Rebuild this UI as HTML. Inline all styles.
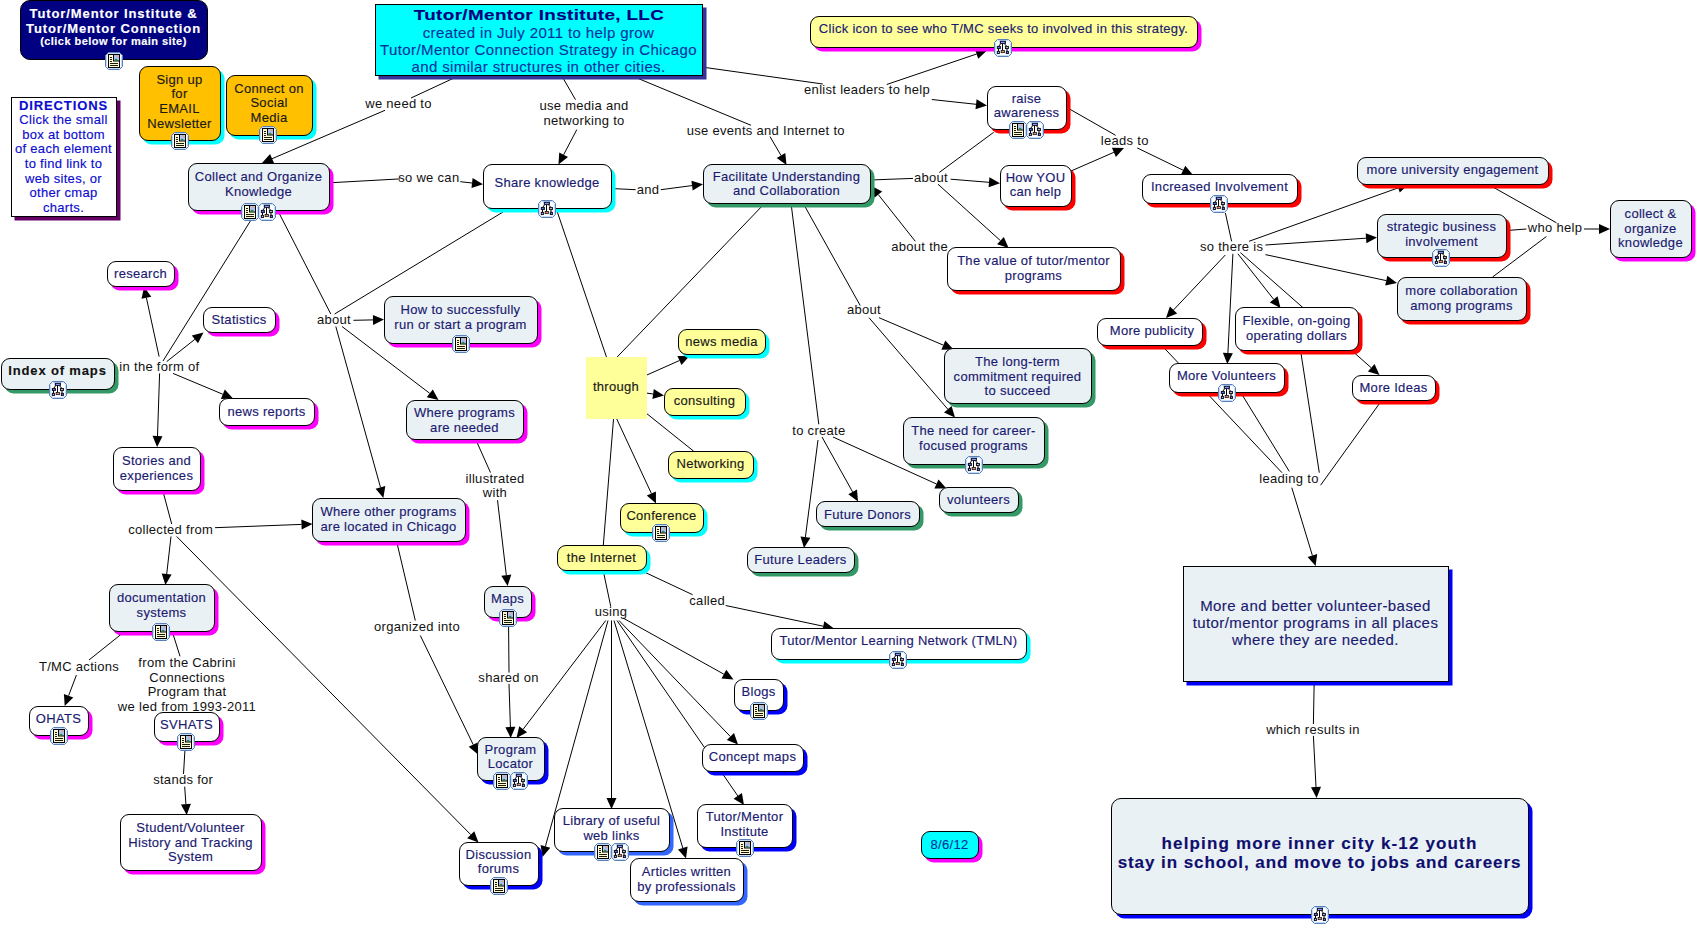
<!DOCTYPE html><html><head><meta charset="utf-8"><style>
html,body{margin:0;padding:0;background:#fff;}
body{width:1697px;height:926px;position:relative;overflow:hidden;font-family:"Liberation Sans", sans-serif;}
.n{position:absolute;box-sizing:border-box;}
.t{position:absolute;white-space:nowrap;text-align:center;width:600px;height:0;}
.t span{position:absolute;left:0;width:600px;text-align:center;transform:translateY(-50%);line-height:1;-webkit-text-stroke:0.15px currentColor;}
.lab{position:absolute;white-space:nowrap;color:#111;font-size:13px;letter-spacing:0.3px;}
.lab span{position:absolute;transform:translate(-50%,-50%);padding:0 1px;line-height:1.05;}
.ic{position:absolute;width:18px;height:18px;}
svg.lines{position:absolute;left:0;top:0;}

</style></head><body>
<svg width="0" height="0" style="position:absolute"><defs>
<symbol id="iw" viewBox="0 0 18 18">
<path d="M3.5,0.5H14.5L17.5,3.5V14.5L14.5,17.5H3.5L0.5,14.5V3.5Z" fill="#fff" stroke="#5a80bc" stroke-width="1"/>
<path d="M3.8,1.5H14.2L16.5,3.8V14.2L14.2,16.5H3.8L1.5,14.2V3.8Z" fill="none" stroke="#c0dcfa" stroke-width="1"/>
<rect x="3.5" y="2.5" width="11" height="13" fill="#fffbd8" stroke="#000" stroke-width="1"/>
<rect x="8.5" y="2.5" width="6" height="6.5" fill="#a8c4f0" stroke="#000" stroke-width="1"/>
<circle cx="12.6" cy="4.3" r="1.1" fill="#f0a080"/>
<path d="M9,8.6 L11,6.4 L13.5,8.6 Z" fill="#2f7a2f"/>
<path d="M5,5.5h2M5,7.5h2M5,9.5h2M5,11.5h8M5,13.5h8" stroke="#1a1a00" stroke-width="1"/>
</symbol>
<symbol id="ic" viewBox="0 0 18 18">
<path d="M3.5,0.5H14.5L17.5,3.5V14.5L14.5,17.5H3.5L0.5,14.5V3.5Z" fill="#fff" stroke="#5a80bc" stroke-width="1"/>
<path d="M3.8,1.5H14.2L16.5,3.8V14.2L14.2,16.5H3.8L1.5,14.2V3.8Z" fill="none" stroke="#c0dcfa" stroke-width="1"/>
<path d="M8.5,4.5V11.5M6.8,4.5L4.8,7.2M10.2,4.5L12.7,7.2M4.5,9.7V12.1M13,9.7V12.1" stroke="#000" stroke-width="1" fill="none"/>
<rect x="6.1" y="2.1" width="5.6" height="2.5" fill="#0a0a80" stroke="#000" stroke-width="0.6"/>
<rect x="7" y="2.9" width="3.8" height="0.9" fill="#a0c8ff"/>
<rect x="3.2" y="7.3" width="3.3" height="2.4" fill="#10108a" stroke="#000" stroke-width="0.7"/>
<rect x="4" y="8.1" width="1.7" height="0.8" fill="#7090ff"/>
<rect x="11.3" y="7.3" width="3.3" height="2.4" fill="#10108a" stroke="#000" stroke-width="0.7"/>
<rect x="12" y="8.1" width="1.9" height="0.8" fill="#f0f0a0"/>
<rect x="3.2" y="12.2" width="2.4" height="2.5" fill="#10108a" stroke="#000" stroke-width="0.7"/>
<rect x="4" y="13" width="0.8" height="0.9" fill="#fff"/>
<rect x="7.1" y="11.5" width="3.3" height="2.2" fill="#e09070" stroke="#000" stroke-width="0.7"/>
<rect x="12.2" y="12.2" width="2.4" height="2.5" fill="#10108a" stroke="#000" stroke-width="0.7"/>
<rect x="13" y="13" width="0.8" height="0.9" fill="#8aa0ff"/>
</symbol>
</defs></svg>
<svg class="lines" width="1697" height="926"><g stroke="#000" stroke-width="1" fill="none"><line x1="454" y1="78" x2="411" y2="98"/><line x1="385" y1="110.3" x2="272.1" y2="158.7"/><path d="M262.0,163.0 L270.1,154.1 L274.1,163.3 Z" fill="#000" stroke="none"/><line x1="563" y1="78" x2="575.5" y2="99.7"/><line x1="576.8" y1="129.6" x2="563.6" y2="154.8"/><path d="M558.5,164.5 L559.2,152.4 L568.0,157.1 Z" fill="#000" stroke="none"/><line x1="637" y1="78" x2="751" y2="125.3"/><line x1="770" y1="136.6" x2="781.0" y2="155.5"/><path d="M786.5,165.0 L776.7,158.0 L785.3,153.0 Z" fill="#000" stroke="none"/><line x1="703" y1="67.2" x2="822.8" y2="84"/><line x1="886.7" y1="84.5" x2="976.6" y2="54.0"/><path d="M987.0,50.5 L978.2,58.8 L975.0,49.3 Z" fill="#000" stroke="none"/><line x1="931.8" y1="99.5" x2="976.1" y2="104.3"/><path d="M987.0,105.5 L975.5,109.3 L976.6,99.3 Z" fill="#000" stroke="none"/><line x1="333" y1="182.6" x2="400" y2="178.9"/><line x1="460.3" y1="181.7" x2="472.1" y2="183.0"/><path d="M483.0,184.2 L471.5,188.0 L472.6,178.0 Z" fill="#000" stroke="none"/><line x1="611" y1="188.5" x2="635.7" y2="189.7"/><line x1="660.8" y1="189.7" x2="692.1" y2="185.6"/><path d="M703.0,184.2 L692.7,190.6 L691.4,180.7 Z" fill="#000" stroke="none"/><line x1="870" y1="180" x2="913" y2="178.4"/><line x1="950.6" y1="179.2" x2="989.0" y2="182.3"/><path d="M1000.0,183.2 L988.6,187.3 L989.4,177.3 Z" fill="#000" stroke="none"/><line x1="939.3" y1="172.4" x2="993.7" y2="132.3"/><line x1="938" y1="184.2" x2="1000.4" y2="240.6"/><path d="M1008.6,248.0 L997.1,244.3 L1003.8,236.9 Z" fill="#000" stroke="none"/><line x1="915.3" y1="241.3" x2="878.3" y2="194.6"/><path d="M871.5,186.0 L882.2,191.5 L874.4,197.7 Z" fill="#000" stroke="none"/><line x1="1066" y1="107" x2="1115.6" y2="135.3"/><line x1="1071" y1="171" x2="1113.9" y2="152.3"/><path d="M1124.0,147.9 L1115.9,156.9 L1111.9,147.7 Z" fill="#000" stroke="none"/><line x1="1137.2" y1="147.9" x2="1183.1" y2="170.2"/><path d="M1193.0,175.0 L1180.9,174.7 L1185.3,165.7 Z" fill="#000" stroke="none"/><line x1="1225.4" y1="213" x2="1231.6" y2="241.3"/><line x1="1249" y1="241.3" x2="1398.1" y2="187.9"/><path d="M1408.5,184.2 L1399.8,192.6 L1396.5,183.2 Z" fill="#000" stroke="none"/><line x1="1265.4" y1="245" x2="1366.0" y2="238.2"/><path d="M1377.0,237.5 L1366.4,243.2 L1365.7,233.2 Z" fill="#000" stroke="none"/><line x1="1265.4" y1="254.6" x2="1386.2" y2="280.6"/><path d="M1397.0,282.9 L1385.2,285.5 L1387.3,275.7 Z" fill="#000" stroke="none"/><line x1="1225.3" y1="255" x2="1173.5" y2="310.0"/><path d="M1166.0,318.0 L1169.9,306.6 L1177.2,313.4 Z" fill="#000" stroke="none"/><line x1="1232.9" y1="253.8" x2="1227.9" y2="353.0"/><path d="M1227.3,364.0 L1222.9,352.8 L1232.9,353.3 Z" fill="#000" stroke="none"/><line x1="1237.9" y1="253.8" x2="1273.7" y2="299.4"/><path d="M1280.5,308.0 L1269.8,302.4 L1277.6,296.3 Z" fill="#000" stroke="none"/><line x1="1240.4" y1="252.6" x2="1371.2" y2="367.7"/><path d="M1379.5,375.0 L1367.9,371.5 L1374.5,364.0 Z" fill="#000" stroke="none"/><line x1="1487.5" y1="184" x2="1556.5" y2="222.8"/><line x1="1507" y1="230.5" x2="1526.4" y2="229"/><line x1="1492.6" y1="277" x2="1546.4" y2="236.5"/><line x1="1584" y1="229" x2="1599.0" y2="229.0"/><path d="M1610.0,229.0 L1599.0,234.0 L1599.0,224.0 Z" fill="#000" stroke="none"/><line x1="1150" y1="333" x2="1282" y2="472.7"/><line x1="1240.4" y1="392" x2="1289.3" y2="471.4"/><line x1="1300.5" y1="350" x2="1319.3" y2="472.7"/><line x1="1382" y1="400" x2="1320.6" y2="485.2"/><line x1="1291.8" y1="487.7" x2="1312.4" y2="555.5"/><path d="M1315.6,566.0 L1307.6,556.9 L1317.2,554.0 Z" fill="#000" stroke="none"/><line x1="1314.2" y1="681" x2="1313.4" y2="724"/><line x1="1313.4" y1="735.9" x2="1316.0" y2="787.0"/><path d="M1316.6,798.0 L1311.0,787.3 L1321.0,786.8 Z" fill="#000" stroke="none"/><line x1="256" y1="212" x2="163" y2="361"/><line x1="159.1" y1="356.6" x2="146.4" y2="297.8"/><path d="M144.1,287.0 L151.3,296.7 L141.5,298.8 Z" fill="#000" stroke="none"/><line x1="166.7" y1="361.6" x2="194.9" y2="339.3"/><path d="M203.5,332.5 L198.0,343.2 L191.8,335.4 Z" fill="#000" stroke="none"/><line x1="173" y1="373.4" x2="222.9" y2="394.3"/><path d="M233.0,398.5 L220.9,398.9 L224.8,389.6 Z" fill="#000" stroke="none"/><line x1="159.6" y1="373.4" x2="157.5" y2="436.0"/><path d="M157.1,447.0 L152.5,435.8 L162.5,436.2 Z" fill="#000" stroke="none"/><line x1="278" y1="211" x2="330.8" y2="314"/><line x1="503" y1="212" x2="334.6" y2="314"/><line x1="353.4" y1="320.3" x2="373.0" y2="319.9"/><path d="M384.0,319.6 L373.1,324.9 L372.9,314.9 Z" fill="#000" stroke="none"/><line x1="342" y1="326.5" x2="429.7" y2="393.3"/><path d="M438.5,400.0 L426.7,397.3 L432.8,389.4 Z" fill="#000" stroke="none"/><line x1="335.8" y1="326.5" x2="380.5" y2="487.4"/><path d="M383.4,498.0 L375.6,488.7 L385.3,486.1 Z" fill="#000" stroke="none"/><line x1="475.5" y1="439" x2="490.5" y2="472.6"/><line x1="497.5" y1="500.2" x2="506.3" y2="575.1"/><path d="M507.6,586.0 L501.3,575.7 L511.3,574.5 Z" fill="#000" stroke="none"/><line x1="508.5" y1="617" x2="509" y2="672.6"/><line x1="509" y1="683.9" x2="510.4" y2="727.0"/><path d="M510.7,738.0 L505.4,727.2 L515.4,726.8 Z" fill="#000" stroke="none"/><line x1="396.5" y1="541" x2="415.3" y2="620.5"/><line x1="420.3" y1="635.5" x2="473.2" y2="744.6"/><path d="M478.0,754.5 L468.7,746.8 L477.7,742.4 Z" fill="#000" stroke="none"/><line x1="162.9" y1="491" x2="171.7" y2="524"/><line x1="215" y1="527.7" x2="301.5" y2="524.4"/><path d="M312.5,524.0 L301.7,529.4 L301.3,519.4 Z" fill="#000" stroke="none"/><line x1="171" y1="536.5" x2="166.7" y2="574.1"/><path d="M165.4,585.0 L161.7,573.5 L171.6,574.6 Z" fill="#000" stroke="none"/><line x1="176.7" y1="536.5" x2="470.8" y2="834.7"/><path d="M478.5,842.5 L467.2,838.2 L474.3,831.2 Z" fill="#000" stroke="none"/><line x1="124" y1="632" x2="89" y2="660"/><line x1="76.4" y1="675.1" x2="68.6" y2="695.7"/><path d="M64.7,706.0 L63.9,693.9 L73.3,697.5 Z" fill="#000" stroke="none"/><line x1="172.4" y1="632" x2="180" y2="656.3"/><line x1="185.5" y1="741" x2="183.5" y2="774"/><line x1="184.7" y1="786.6" x2="185.9" y2="804.0"/><path d="M186.7,815.0 L180.9,804.4 L190.9,803.7 Z" fill="#000" stroke="none"/><line x1="556" y1="208" x2="606.8" y2="358"/><line x1="765" y1="203" x2="616.2" y2="358"/><line x1="646" y1="375.4" x2="679.5" y2="360.5"/><path d="M689.5,356.0 L681.5,365.0 L677.4,355.9 Z" fill="#000" stroke="none"/><line x1="646" y1="393" x2="653.1" y2="394.0"/><path d="M664.0,395.5 L652.4,398.9 L653.8,389.0 Z" fill="#000" stroke="none"/><line x1="646" y1="413" x2="693.8" y2="451.3"/><line x1="616.3" y1="418" x2="651.4" y2="493.5"/><path d="M656.0,503.5 L646.8,495.6 L655.9,491.4 Z" fill="#000" stroke="none"/><line x1="613.6" y1="418" x2="603.3" y2="545.3"/><line x1="603.3" y1="571" x2="610.8" y2="606.7"/><line x1="642.1" y1="571" x2="692.6" y2="594.7"/><line x1="725.7" y1="605.5" x2="823.2" y2="626.2"/><path d="M834.0,628.5 L822.2,631.1 L824.3,621.3 Z" fill="#000" stroke="none"/><line x1="605.8" y1="620.5" x2="523.2" y2="729.2"/><path d="M516.5,738.0 L519.2,726.2 L527.1,732.3 Z" fill="#000" stroke="none"/><line x1="608" y1="620.5" x2="545.4" y2="846.4"/><path d="M542.5,857.0 L540.6,845.1 L550.3,847.7 Z" fill="#000" stroke="none"/><line x1="611.5" y1="620.5" x2="611.5" y2="798.0"/><path d="M611.5,809.0 L606.5,798.0 L616.5,798.0 Z" fill="#000" stroke="none"/><line x1="614" y1="620.5" x2="682.8" y2="848.0"/><path d="M686.0,858.5 L678.0,849.4 L687.6,846.5 Z" fill="#000" stroke="none"/><line x1="617" y1="620.5" x2="737.8" y2="795.9"/><path d="M744.0,805.0 L733.6,798.8 L741.9,793.1 Z" fill="#000" stroke="none"/><line x1="619" y1="620.5" x2="730.4" y2="736.6"/><path d="M738.0,744.5 L726.8,740.0 L734.0,733.1 Z" fill="#000" stroke="none"/><line x1="623" y1="618" x2="723.9" y2="674.2"/><path d="M733.5,679.5 L721.5,678.5 L726.3,669.8 Z" fill="#000" stroke="none"/><line x1="791" y1="203" x2="818.8" y2="424.3"/><line x1="818" y1="440" x2="805.4" y2="537.1"/><path d="M804.0,548.0 L800.5,536.4 L810.4,537.7 Z" fill="#000" stroke="none"/><line x1="822" y1="437" x2="852.6" y2="491.9"/><path d="M858.0,501.5 L848.3,494.3 L857.0,489.5 Z" fill="#000" stroke="none"/><line x1="833" y1="437" x2="936.5" y2="484.0"/><path d="M946.5,488.5 L934.4,488.5 L938.5,479.4 Z" fill="#000" stroke="none"/><line x1="803" y1="203" x2="860.2" y2="305.5"/><line x1="879" y1="317.7" x2="943.4" y2="345.2"/><path d="M953.5,349.5 L941.4,349.8 L945.3,340.6 Z" fill="#000" stroke="none"/><line x1="869" y1="317.7" x2="947.8" y2="409.2"/><path d="M955.0,417.5 L944.0,412.4 L951.6,405.9 Z" fill="#000" stroke="none"/></g></svg>
<div class="n" style="left:20px;top:0px;width:188px;height:60px;background:#000080;border-radius:10px;border:1px solid #000;"></div>
<div class="t" style="left:-186.5px;top:0px"><span style="top:12.7px;font-size:13px;letter-spacing:0.9px;color:#ffffff;font-weight:bold;">Tutor/Mentor Institute &amp;</span><span style="top:27.6px;font-size:13px;letter-spacing:0.9px;color:#ffffff;font-weight:bold;">Tutor/Mentor Connection</span><span style="top:40.7px;font-size:11px;letter-spacing:0.45px;color:#ffffff;font-weight:bold;">(click below for main site)</span></div>
<div class="n" style="left:139px;top:66px;width:82px;height:75px;background:#ffc000;border-radius:9px;border:1px solid #000;box-shadow:3.5px 3.5px 0 #00ffff;"></div>
<div class="t" style="left:-120.5px;top:0px"><span style="top:79px;font-size:13px;letter-spacing:0.3px;color:#1a1a1a;font-weight:normal;">Sign up</span><span style="top:93.4px;font-size:13px;letter-spacing:0.3px;color:#1a1a1a;font-weight:normal;">for</span><span style="top:107.8px;font-size:13px;letter-spacing:0.3px;color:#1a1a1a;font-weight:normal;">EMAIL</span><span style="top:122.5px;font-size:13px;letter-spacing:0.3px;color:#1a1a1a;font-weight:normal;">Newsletter</span></div>
<div class="n" style="left:226px;top:75px;width:87px;height:61px;background:#ffc000;border-radius:9px;border:1px solid #000;box-shadow:3.5px 3.5px 0 #00ffff;"></div>
<div class="t" style="left:-31.0px;top:0px"><span style="top:87.7px;font-size:13px;letter-spacing:0.3px;color:#1a1a1a;font-weight:normal;">Connect on</span><span style="top:102.1px;font-size:13px;letter-spacing:0.3px;color:#1a1a1a;font-weight:normal;">Social</span><span style="top:116.5px;font-size:13px;letter-spacing:0.3px;color:#1a1a1a;font-weight:normal;">Media</span></div>
<div class="n" style="left:11px;top:97px;width:106px;height:120px;background:#ffffff;border-radius:0px;border:1px solid #000;box-shadow:3.5px 3.5px 0 #660066;"></div>
<div class="t" style="left:-236.5px;top:0px"><span style="top:104.6px;font-size:13px;letter-spacing:0.9px;color:#0c0cd0;font-weight:bold;">DIRECTIONS</span><span style="top:119.2px;font-size:13px;letter-spacing:0.3px;color:#0c0cd0;font-weight:normal;">Click the small</span><span style="top:133.7px;font-size:13px;letter-spacing:0.3px;color:#0c0cd0;font-weight:normal;">box at bottom</span><span style="top:148.3px;font-size:13px;letter-spacing:0.3px;color:#0c0cd0;font-weight:normal;">of each element</span><span style="top:162.7px;font-size:13px;letter-spacing:0.3px;color:#0c0cd0;font-weight:normal;">to find link to</span><span style="top:177.5px;font-size:13px;letter-spacing:0.3px;color:#0c0cd0;font-weight:normal;">web sites, or</span><span style="top:192px;font-size:13px;letter-spacing:0.3px;color:#0c0cd0;font-weight:normal;">other cmap</span><span style="top:206.5px;font-size:13px;letter-spacing:0.3px;color:#0c0cd0;font-weight:normal;">charts.</span></div>
<div class="n" style="left:375px;top:4px;width:328px;height:72px;background:#00ffff;border-radius:0px;border:1px solid #000;box-shadow:3.5px 3.5px 0 #333399;"></div>
<div class="t" style="left:238.5px;top:0px"><span style="top:14.7px;font-size:15.5px;letter-spacing:0.3px;color:#000080;font-weight:bold;transform:translateY(-50%) scaleX(1.217);">Tutor/Mentor Institute, LLC</span><span style="top:31.700000000000003px;font-size:15px;letter-spacing:0.38px;color:#0033a0;font-weight:normal;">created in July 2011 to help grow</span><span style="top:48.6px;font-size:15px;letter-spacing:0.38px;color:#0033a0;font-weight:normal;">Tutor/Mentor Connection Strategy in Chicago</span><span style="top:65.5px;font-size:15px;letter-spacing:0.38px;color:#0033a0;font-weight:normal;">and similar structures in other cities.</span></div>
<div class="n" style="left:810px;top:16px;width:388px;height:32px;background:#ffff99;border-radius:9px;border:1px solid #000;box-shadow:3.5px 3.5px 0 #ff00ff;"></div>
<div class="t" style="left:703.5px;top:0px"><span style="top:28px;font-size:13px;letter-spacing:0.3px;color:#1a1a70;font-weight:normal;">Click icon to see who T/MC seeks to involved in this strategy.</span></div>
<div class="n" style="left:188px;top:163px;width:142px;height:48px;background:#eaf1f4;border-radius:9px;border:1px solid #000;box-shadow:3.5px 3.5px 0 #ff00ff;"></div>
<div class="t" style="left:-41.5px;top:0px"><span style="top:176px;font-size:13px;letter-spacing:0.3px;color:#1a1a70;font-weight:normal;">Collect and Organize</span><span style="top:190.6px;font-size:13px;letter-spacing:0.3px;color:#1a1a70;font-weight:normal;">Knowledge</span></div>
<div class="n" style="left:483px;top:164px;width:129px;height:45px;background:#ffffff;border-radius:9px;border:1px solid #000;box-shadow:3.5px 3.5px 0 #00ffff;"></div>
<div class="t" style="left:247.0px;top:0px"><span style="top:182px;font-size:13px;letter-spacing:0.3px;color:#1a1a70;font-weight:normal;">Share knowledge</span></div>
<div class="n" style="left:703px;top:164px;width:168px;height:40px;background:#eaf1f4;border-radius:9px;border:1px solid #000;box-shadow:3.5px 3.5px 0 #339966;"></div>
<div class="t" style="left:486.5px;top:0px"><span style="top:175.8px;font-size:13px;letter-spacing:0.3px;color:#1a1a70;font-weight:normal;">Facilitate Understanding</span><span style="top:190.3px;font-size:13px;letter-spacing:0.3px;color:#1a1a70;font-weight:normal;">and Collaboration</span></div>
<div class="n" style="left:987px;top:86px;width:80px;height:44px;background:#ffffff;border-radius:9px;border:1px solid #000;box-shadow:3.5px 3.5px 0 #ff0000;"></div>
<div class="t" style="left:726.5px;top:0px"><span style="top:97.7px;font-size:13px;letter-spacing:0.3px;color:#1a1a70;font-weight:normal;">raise</span><span style="top:112.3px;font-size:13px;letter-spacing:0.3px;color:#1a1a70;font-weight:normal;">awareness</span></div>
<div class="n" style="left:1000px;top:165px;width:72px;height:42px;background:#ffffff;border-radius:9px;border:1px solid #000;box-shadow:3.5px 3.5px 0 #ff0000;"></div>
<div class="t" style="left:735.5px;top:0px"><span style="top:176.7px;font-size:13px;letter-spacing:0.3px;color:#1a1a70;font-weight:normal;">How YOU</span><span style="top:191.3px;font-size:13px;letter-spacing:0.3px;color:#1a1a70;font-weight:normal;">can help</span></div>
<div class="n" style="left:1142px;top:174px;width:156px;height:30px;background:#ffffff;border-radius:9px;border:1px solid #000;box-shadow:3.5px 3.5px 0 #ff0000;"></div>
<div class="t" style="left:919.5px;top:0px"><span style="top:185.8px;font-size:13px;letter-spacing:0.3px;color:#1a1a70;font-weight:normal;">Increased Involvement</span></div>
<div class="n" style="left:1357px;top:157px;width:192px;height:28px;background:#eaf1f4;border-radius:9px;border:1px solid #000;box-shadow:3.5px 3.5px 0 #ff0000;"></div>
<div class="t" style="left:1152.5px;top:0px"><span style="top:168.6px;font-size:13px;letter-spacing:0.3px;color:#1a1a70;font-weight:normal;">more university engagement</span></div>
<div class="n" style="left:1377px;top:214px;width:130px;height:44px;background:#eaf1f4;border-radius:9px;border:1px solid #000;box-shadow:3.5px 3.5px 0 #ff0000;"></div>
<div class="t" style="left:1141.5px;top:0px"><span style="top:226px;font-size:13px;letter-spacing:0.3px;color:#1a1a70;font-weight:normal;">strategic business</span><span style="top:240.6px;font-size:13px;letter-spacing:0.3px;color:#1a1a70;font-weight:normal;">involvement</span></div>
<div class="n" style="left:1397px;top:277px;width:130px;height:44px;background:#eaf1f4;border-radius:9px;border:1px solid #000;box-shadow:3.5px 3.5px 0 #ff0000;"></div>
<div class="t" style="left:1161.5px;top:0px"><span style="top:290.2px;font-size:13px;letter-spacing:0.3px;color:#1a1a70;font-weight:normal;">more collaboration</span><span style="top:304.7px;font-size:13px;letter-spacing:0.3px;color:#1a1a70;font-weight:normal;">among programs</span></div>
<div class="n" style="left:1610px;top:200px;width:82px;height:58px;background:#eaf1f4;border-radius:9px;border:1px solid #000;box-shadow:3.5px 3.5px 0 #ff00ff;"></div>
<div class="t" style="left:1350.5px;top:0px"><span style="top:213px;font-size:13px;letter-spacing:0.3px;color:#1a1a70;font-weight:normal;">collect &amp;</span><span style="top:227.6px;font-size:13px;letter-spacing:0.3px;color:#1a1a70;font-weight:normal;">organize</span><span style="top:242px;font-size:13px;letter-spacing:0.3px;color:#1a1a70;font-weight:normal;">knowledge</span></div>
<div class="n" style="left:107px;top:261px;width:68px;height:26px;background:#ffffff;border-radius:9px;border:1px solid #000;box-shadow:3.5px 3.5px 0 #ff00ff;"></div>
<div class="t" style="left:-159.5px;top:0px"><span style="top:273px;font-size:13px;letter-spacing:0.3px;color:#1a1a70;font-weight:normal;">research</span></div>
<div class="n" style="left:203px;top:307px;width:73px;height:26px;background:#ffffff;border-radius:9px;border:1px solid #000;box-shadow:3.5px 3.5px 0 #ff00ff;"></div>
<div class="t" style="left:-61.0px;top:0px"><span style="top:318.8px;font-size:13px;letter-spacing:0.3px;color:#1a1a70;font-weight:normal;">Statistics</span></div>
<div class="n" style="left:219px;top:398px;width:96px;height:28px;background:#ffffff;border-radius:9px;border:1px solid #000;box-shadow:3.5px 3.5px 0 #ff00ff;"></div>
<div class="t" style="left:-33.5px;top:0px"><span style="top:410.6px;font-size:13px;letter-spacing:0.3px;color:#1a1a70;font-weight:normal;">news reports</span></div>
<div class="n" style="left:1px;top:358px;width:114px;height:32px;background:#eaf1f4;border-radius:9px;border:1px solid #000;box-shadow:3.5px 3.5px 0 #339966;"></div>
<div class="t" style="left:-242.5px;top:0px"><span style="top:370px;font-size:13px;letter-spacing:0.85px;color:#111111;font-weight:bold;">Index of maps</span></div>
<div class="n" style="left:384px;top:296px;width:154px;height:48px;background:#eaf1f4;border-radius:9px;border:1px solid #000;box-shadow:3.5px 3.5px 0 #ff00ff;"></div>
<div class="t" style="left:160.5px;top:0px"><span style="top:308.8px;font-size:13px;letter-spacing:0.3px;color:#1a1a70;font-weight:normal;">How to successfully</span><span style="top:323.5px;font-size:13px;letter-spacing:0.3px;color:#1a1a70;font-weight:normal;">run or start a program</span></div>
<div class="n" style="left:406px;top:400px;width:118px;height:40px;background:#eaf1f4;border-radius:9px;border:1px solid #000;box-shadow:3.5px 3.5px 0 #ff00ff;"></div>
<div class="t" style="left:164.5px;top:0px"><span style="top:412px;font-size:13px;letter-spacing:0.3px;color:#1a1a70;font-weight:normal;">Where programs</span><span style="top:426.5px;font-size:13px;letter-spacing:0.3px;color:#1a1a70;font-weight:normal;">are needed</span></div>
<div class="n" style="left:586px;top:357px;width:61px;height:62px;background:#ffff99;border-radius:0px;"></div>
<div class="t" style="left:316.0px;top:0px"><span style="top:385.8px;font-size:13px;letter-spacing:0.3px;color:#1a1a1a;font-weight:normal;">through</span></div>
<div class="n" style="left:678px;top:329px;width:88px;height:26px;background:#ffff99;border-radius:9px;border:1px solid #000;box-shadow:3.5px 3.5px 0 #00ffff;"></div>
<div class="t" style="left:421.5px;top:0px"><span style="top:341px;font-size:13px;letter-spacing:0.3px;color:#1a1a1a;font-weight:normal;">news media</span></div>
<div class="n" style="left:664px;top:388px;width:82px;height:28px;background:#ffff99;border-radius:9px;border:1px solid #000;box-shadow:3.5px 3.5px 0 #00ffff;"></div>
<div class="t" style="left:404.5px;top:0px"><span style="top:400px;font-size:13px;letter-spacing:0.3px;color:#1a1a1a;font-weight:normal;">consulting</span></div>
<div class="n" style="left:947px;top:247px;width:174px;height:44px;background:#ffffff;border-radius:9px;border:1px solid #000;box-shadow:3.5px 3.5px 0 #ff0000;"></div>
<div class="t" style="left:733.5px;top:0px"><span style="top:260px;font-size:13px;letter-spacing:0.3px;color:#1a1a70;font-weight:normal;">The value of tutor/mentor</span><span style="top:274.6px;font-size:13px;letter-spacing:0.3px;color:#1a1a70;font-weight:normal;">programs</span></div>
<div class="n" style="left:944px;top:348px;width:148px;height:56px;background:#eaf1f4;border-radius:9px;border:1px solid #000;box-shadow:3.5px 3.5px 0 #339966;"></div>
<div class="t" style="left:717.5px;top:0px"><span style="top:361px;font-size:13px;letter-spacing:0.3px;color:#1a1a70;font-weight:normal;">The long-term</span><span style="top:375.6px;font-size:13px;letter-spacing:0.3px;color:#1a1a70;font-weight:normal;">commitment required</span><span style="top:390.2px;font-size:13px;letter-spacing:0.3px;color:#1a1a70;font-weight:normal;">to succeed</span></div>
<div class="n" style="left:903px;top:417px;width:142px;height:48px;background:#eaf1f4;border-radius:9px;border:1px solid #000;box-shadow:3.5px 3.5px 0 #339966;"></div>
<div class="t" style="left:673.5px;top:0px"><span style="top:430.3px;font-size:13px;letter-spacing:0.3px;color:#1a1a70;font-weight:normal;">The need for career-</span><span style="top:444.6px;font-size:13px;letter-spacing:0.3px;color:#1a1a70;font-weight:normal;">focused programs</span></div>
<div class="n" style="left:1097px;top:318px;width:106px;height:28px;background:#ffffff;border-radius:9px;border:1px solid #000;box-shadow:3.5px 3.5px 0 #ff0000;"></div>
<div class="t" style="left:852px;top:0px"><span style="top:330px;font-size:13px;letter-spacing:0.3px;color:#1a1a70;font-weight:normal;">More publicity</span></div>
<div class="n" style="left:1169px;top:363px;width:116px;height:30px;background:#ffffff;border-radius:9px;border:1px solid #000;box-shadow:3.5px 3.5px 0 #ff0000;"></div>
<div class="t" style="left:926.5px;top:0px"><span style="top:375px;font-size:13px;letter-spacing:0.3px;color:#1a1a70;font-weight:normal;">More Volunteers</span></div>
<div class="n" style="left:1235px;top:307px;width:124px;height:44px;background:#ffffff;border-radius:9px;border:1px solid #000;box-shadow:3.5px 3.5px 0 #ff0000;"></div>
<div class="t" style="left:996.5px;top:0px"><span style="top:320px;font-size:13px;letter-spacing:0.3px;color:#1a1a70;font-weight:normal;">Flexible, on-going</span><span style="top:334.7px;font-size:13px;letter-spacing:0.3px;color:#1a1a70;font-weight:normal;">operating dollars</span></div>
<div class="n" style="left:1352px;top:375px;width:84px;height:26px;background:#ffffff;border-radius:9px;border:1px solid #000;box-shadow:3.5px 3.5px 0 #ff0000;"></div>
<div class="t" style="left:1093.5px;top:0px"><span style="top:387px;font-size:13px;letter-spacing:0.3px;color:#1a1a70;font-weight:normal;">More Ideas</span></div>
<div class="n" style="left:113px;top:447px;width:88px;height:44px;background:#ffffff;border-radius:9px;border:1px solid #000;box-shadow:3.5px 3.5px 0 #ff00ff;"></div>
<div class="t" style="left:-143.5px;top:0px"><span style="top:459.9px;font-size:13px;letter-spacing:0.3px;color:#1a1a70;font-weight:normal;">Stories and</span><span style="top:474.6px;font-size:13px;letter-spacing:0.3px;color:#1a1a70;font-weight:normal;">experiences</span></div>
<div class="n" style="left:312px;top:498px;width:154px;height:44px;background:#eaf1f4;border-radius:9px;border:1px solid #000;box-shadow:3.5px 3.5px 0 #ff00ff;"></div>
<div class="t" style="left:88.5px;top:0px"><span style="top:511px;font-size:13px;letter-spacing:0.3px;color:#1a1a70;font-weight:normal;">Where other programs</span><span style="top:525.5px;font-size:13px;letter-spacing:0.3px;color:#1a1a70;font-weight:normal;">are located in Chicago</span></div>
<div class="n" style="left:109px;top:584px;width:106px;height:48px;background:#eaf1f4;border-radius:9px;border:1px solid #000;box-shadow:3.5px 3.5px 0 #ff00ff;"></div>
<div class="t" style="left:-138.5px;top:0px"><span style="top:597px;font-size:13px;letter-spacing:0.3px;color:#1a1a70;font-weight:normal;">documentation</span><span style="top:611.8px;font-size:13px;letter-spacing:0.3px;color:#1a1a70;font-weight:normal;">systems</span></div>
<div class="n" style="left:484px;top:586px;width:48px;height:32px;background:#eaf1f4;border-radius:9px;border:1px solid #000;box-shadow:3.5px 3.5px 0 #ff00ff;"></div>
<div class="t" style="left:207.5px;top:0px"><span style="top:597.5px;font-size:13px;letter-spacing:0.3px;color:#1a1a70;font-weight:normal;">Maps</span></div>
<div class="n" style="left:620px;top:503px;width:84px;height:30px;background:#ffff99;border-radius:9px;border:1px solid #000;box-shadow:3.5px 3.5px 0 #00ffff;"></div>
<div class="t" style="left:361.5px;top:0px"><span style="top:514.8px;font-size:13px;letter-spacing:0.3px;color:#1a1a1a;font-weight:normal;">Conference</span></div>
<div class="n" style="left:557px;top:545px;width:90px;height:26px;background:#ffff99;border-radius:9px;border:1px solid #000;box-shadow:3.5px 3.5px 0 #00ffff;"></div>
<div class="t" style="left:301.5px;top:0px"><span style="top:556.8px;font-size:13px;letter-spacing:0.3px;color:#1a1a1a;font-weight:normal;">the Internet</span></div>
<div class="n" style="left:668px;top:451px;width:86px;height:28px;background:#ffff99;border-radius:9px;border:1px solid #000;box-shadow:3.5px 3.5px 0 #00ffff;"></div>
<div class="t" style="left:410.5px;top:0px"><span style="top:463px;font-size:13px;letter-spacing:0.3px;color:#1a1a1a;font-weight:normal;">Networking</span></div>
<div class="n" style="left:939px;top:487px;width:80px;height:26px;background:#eaf1f4;border-radius:9px;border:1px solid #000;box-shadow:3.5px 3.5px 0 #339966;"></div>
<div class="t" style="left:678.5px;top:0px"><span style="top:498.8px;font-size:13px;letter-spacing:0.3px;color:#1a1a70;font-weight:normal;">volunteers</span></div>
<div class="n" style="left:816px;top:501px;width:104px;height:26px;background:#eaf1f4;border-radius:9px;border:1px solid #000;box-shadow:3.5px 3.5px 0 #339966;"></div>
<div class="t" style="left:567.5px;top:0px"><span style="top:513.5px;font-size:13px;letter-spacing:0.3px;color:#1a1a70;font-weight:normal;">Future Donors</span></div>
<div class="n" style="left:747px;top:547px;width:108px;height:26px;background:#eaf1f4;border-radius:9px;border:1px solid #000;box-shadow:3.5px 3.5px 0 #339966;"></div>
<div class="t" style="left:500.5px;top:0px"><span style="top:558.7px;font-size:13px;letter-spacing:0.3px;color:#1a1a70;font-weight:normal;">Future Leaders</span></div>
<div class="n" style="left:771px;top:628px;width:256px;height:32px;background:#ffffff;border-radius:9px;border:1px solid #000;box-shadow:3.5px 3.5px 0 #00ffff;"></div>
<div class="t" style="left:598.5px;top:0px"><span style="top:639.6px;font-size:13px;letter-spacing:0.3px;color:#1a1a70;font-weight:normal;">Tutor/Mentor Learning Network (TMLN)</span></div>
<div class="n" style="left:1183px;top:566px;width:266px;height:116px;background:#eaf1f4;border-radius:0px;border:1px solid #000;box-shadow:3.5px 3.5px 0 #0000ff;"></div>
<div class="t" style="left:1015.5px;top:0px"><span style="top:604.5px;font-size:15px;letter-spacing:0.42px;color:#1a1a70;font-weight:normal;">More and better volunteer-based</span><span style="top:621.5px;font-size:15px;letter-spacing:0.42px;color:#1a1a70;font-weight:normal;">tutor/mentor programs in all places</span><span style="top:638.8px;font-size:15px;letter-spacing:0.42px;color:#1a1a70;font-weight:normal;">where they are needed.</span></div>
<div class="n" style="left:1111px;top:798px;width:418px;height:117px;background:#eaf1f4;border-radius:10px;border:1px solid #000;box-shadow:3.5px 3.5px 0 #0000ff;"></div>
<div class="t" style="left:1019.5px;top:0px"><span style="top:842.5px;font-size:17px;letter-spacing:1.15px;color:#0e0e6e;font-weight:bold;">helping more inner city k-12 youth</span><span style="top:862.2px;font-size:17px;letter-spacing:0.93px;color:#0e0e6e;font-weight:bold;">stay in school, and move to jobs and careers</span></div>
<div class="n" style="left:29px;top:706px;width:60px;height:30px;background:#ffffff;border-radius:9px;border:1px solid #000;box-shadow:3.5px 3.5px 0 #ff00ff;"></div>
<div class="t" style="left:-241.5px;top:0px"><span style="top:717.5px;font-size:13px;letter-spacing:0.3px;color:#1a1a70;font-weight:normal;">OHATS</span></div>
<div class="n" style="left:154px;top:712px;width:66px;height:30px;background:#ffffff;border-radius:9px;border:1px solid #000;box-shadow:3.5px 3.5px 0 #ff00ff;"></div>
<div class="t" style="left:-113.5px;top:0px"><span style="top:723.7px;font-size:13px;letter-spacing:0.3px;color:#1a1a70;font-weight:normal;">SVHATS</span></div>
<div class="n" style="left:120px;top:814px;width:142px;height:57px;background:#ffffff;border-radius:9px;border:1px solid #000;box-shadow:3.5px 3.5px 0 #ff00ff;"></div>
<div class="t" style="left:-109.5px;top:0px"><span style="top:827px;font-size:13px;letter-spacing:0.3px;color:#1a1a70;font-weight:normal;">Student/Volunteer</span><span style="top:841.5px;font-size:13px;letter-spacing:0.3px;color:#1a1a70;font-weight:normal;">History and Tracking</span><span style="top:856px;font-size:13px;letter-spacing:0.3px;color:#1a1a70;font-weight:normal;">System</span></div>
<div class="n" style="left:477px;top:737px;width:68px;height:44px;background:#eaf1f4;border-radius:9px;border:1px solid #000;box-shadow:3.5px 3.5px 0 #0000ff;"></div>
<div class="t" style="left:210.5px;top:0px"><span style="top:748.5px;font-size:13px;letter-spacing:0.3px;color:#1a1a70;font-weight:normal;">Program</span><span style="top:763px;font-size:13px;letter-spacing:0.3px;color:#1a1a70;font-weight:normal;">Locator</span></div>
<div class="n" style="left:734px;top:679px;width:50px;height:32px;background:#ffffff;border-radius:9px;border:1px solid #000;box-shadow:3.5px 3.5px 0 #0000ff;"></div>
<div class="t" style="left:458.5px;top:0px"><span style="top:690.8px;font-size:13px;letter-spacing:0.3px;color:#1a1a70;font-weight:normal;">Blogs</span></div>
<div class="n" style="left:702px;top:744px;width:102px;height:28px;background:#ffffff;border-radius:9px;border:1px solid #000;box-shadow:3.5px 3.5px 0 #0000ff;"></div>
<div class="t" style="left:452.5px;top:0px"><span style="top:755.6px;font-size:13px;letter-spacing:0.3px;color:#1a1a70;font-weight:normal;">Concept maps</span></div>
<div class="n" style="left:554px;top:808px;width:116px;height:44px;background:#ffffff;border-radius:9px;border:1px solid #000;box-shadow:3.5px 3.5px 0 #3366ff;"></div>
<div class="t" style="left:311.5px;top:0px"><span style="top:820px;font-size:13px;letter-spacing:0.3px;color:#1a1a70;font-weight:normal;">Library of useful</span><span style="top:834.5px;font-size:13px;letter-spacing:0.3px;color:#1a1a70;font-weight:normal;">web links</span></div>
<div class="n" style="left:697px;top:804px;width:96px;height:44px;background:#ffffff;border-radius:9px;border:1px solid #000;box-shadow:3.5px 3.5px 0 #0000ff;"></div>
<div class="t" style="left:444.5px;top:0px"><span style="top:816px;font-size:13px;letter-spacing:0.3px;color:#1a1a70;font-weight:normal;">Tutor/Mentor</span><span style="top:830.6px;font-size:13px;letter-spacing:0.3px;color:#1a1a70;font-weight:normal;">Institute</span></div>
<div class="n" style="left:459px;top:842px;width:80px;height:44px;background:#ffffff;border-radius:9px;border:1px solid #000;box-shadow:3.5px 3.5px 0 #0000ff;"></div>
<div class="t" style="left:198.5px;top:0px"><span style="top:853.5px;font-size:13px;letter-spacing:0.3px;color:#1a1a70;font-weight:normal;">Discussion</span><span style="top:868px;font-size:13px;letter-spacing:0.3px;color:#1a1a70;font-weight:normal;">forums</span></div>
<div class="n" style="left:630px;top:858px;width:114px;height:44px;background:#ffffff;border-radius:9px;border:1px solid #000;box-shadow:3.5px 3.5px 0 #3366ff;"></div>
<div class="t" style="left:386.5px;top:0px"><span style="top:870.8px;font-size:13px;letter-spacing:0.3px;color:#1a1a70;font-weight:normal;">Articles written</span><span style="top:885.6px;font-size:13px;letter-spacing:0.3px;color:#1a1a70;font-weight:normal;">by professionals</span></div>
<div class="n" style="left:921px;top:831px;width:58px;height:28px;background:#00ffff;border-radius:9px;border:1px solid #000;box-shadow:3.5px 3.5px 0 #ff00ff;"></div>
<div class="t" style="left:649.5px;top:0px"><span style="top:843.8px;font-size:13px;letter-spacing:0.3px;color:#0033a0;font-weight:normal;">8/6/12</span></div>
<div class="lab" style="left:0;top:0"><span style="left:398.5px;top:104px">we need to</span></div>
<div class="lab" style="left:0;top:0"><span style="left:584px;top:105.8px">use media and</span><span style="left:584px;top:120.6px">networking to</span></div>
<div class="lab" style="left:0;top:0"><span style="left:765.8px;top:130.8px">use events and Internet to</span></div>
<div class="lab" style="left:0;top:0"><span style="left:867px;top:89.7px">enlist leaders to help</span></div>
<div class="lab" style="left:0;top:0"><span style="left:428.8px;top:178px">so we can</span></div>
<div class="lab" style="left:0;top:0"><span style="left:648px;top:190px">and</span></div>
<div class="lab" style="left:0;top:0"><span style="left:931px;top:178.2px">about</span></div>
<div class="lab" style="left:0;top:0"><span style="left:919.7px;top:246.8px">about the</span></div>
<div class="lab" style="left:0;top:0"><span style="left:1124.8px;top:141px">leads to</span></div>
<div class="lab" style="left:0;top:0"><span style="left:1231.6px;top:246.8px">so there is</span></div>
<div class="lab" style="left:0;top:0"><span style="left:1555px;top:228.3px">who help</span></div>
<div class="lab" style="left:0;top:0"><span style="left:159.4px;top:367px">in the form of</span></div>
<div class="lab" style="left:0;top:0"><span style="left:334px;top:320.2px">about</span></div>
<div class="lab" style="left:0;top:0"><span style="left:495px;top:478.8px">illustrated</span><span style="left:495px;top:493.4px">with</span></div>
<div class="lab" style="left:0;top:0"><span style="left:417px;top:626.7px">organized into</span></div>
<div class="lab" style="left:0;top:0"><span style="left:508.6px;top:678px">shared on</span></div>
<div class="lab" style="left:0;top:0"><span style="left:170.7px;top:529.7px">collected from</span></div>
<div class="lab" style="left:0;top:0"><span style="left:79px;top:666.8px">T/MC actions</span></div>
<div class="lab" style="left:0;top:0"><span style="left:187px;top:663px">from the Cabrini</span><span style="left:187px;top:677.6px">Connections</span><span style="left:187px;top:692.2px">Program that</span><span style="left:187px;top:706.6px">we led from 1993-2011</span></div>
<div class="lab" style="left:0;top:0"><span style="left:183.2px;top:779.8px">stands for</span></div>
<div class="lab" style="left:0;top:0"><span style="left:611px;top:612px">using</span></div>
<div class="lab" style="left:0;top:0"><span style="left:707.2px;top:600.7px">called</span></div>
<div class="lab" style="left:0;top:0"><span style="left:818.9px;top:430.5px">to create</span></div>
<div class="lab" style="left:0;top:0"><span style="left:864px;top:309.7px">about</span></div>
<div class="lab" style="left:0;top:0"><span style="left:1289px;top:479px">leading to</span></div>
<div class="lab" style="left:0;top:0"><span style="left:1313px;top:730px">which results in</span></div>
<svg class="ic" style="left:105px;top:52px" viewBox="0 0 18 18"><use href="#iw"/></svg>
<svg class="ic" style="left:171px;top:132px" viewBox="0 0 18 18"><use href="#iw"/></svg>
<svg class="ic" style="left:259px;top:126px" viewBox="0 0 18 18"><use href="#iw"/></svg>
<svg class="ic" style="left:994px;top:39px" viewBox="0 0 18 18"><use href="#ic"/></svg>
<svg class="ic" style="left:241px;top:203px" viewBox="0 0 18 18"><use href="#iw"/></svg>
<svg class="ic" style="left:258px;top:203px" viewBox="0 0 18 18"><use href="#ic"/></svg>
<svg class="ic" style="left:538px;top:200px" viewBox="0 0 18 18"><use href="#ic"/></svg>
<svg class="ic" style="left:1009px;top:121px" viewBox="0 0 18 18"><use href="#iw"/></svg>
<svg class="ic" style="left:1026px;top:121px" viewBox="0 0 18 18"><use href="#ic"/></svg>
<svg class="ic" style="left:1210px;top:195px" viewBox="0 0 18 18"><use href="#ic"/></svg>
<svg class="ic" style="left:1432px;top:249px" viewBox="0 0 18 18"><use href="#ic"/></svg>
<svg class="ic" style="left:49px;top:381px" viewBox="0 0 18 18"><use href="#ic"/></svg>
<svg class="ic" style="left:452px;top:335px" viewBox="0 0 18 18"><use href="#iw"/></svg>
<svg class="ic" style="left:965px;top:456px" viewBox="0 0 18 18"><use href="#ic"/></svg>
<svg class="ic" style="left:1218px;top:384px" viewBox="0 0 18 18"><use href="#ic"/></svg>
<svg class="ic" style="left:152px;top:623px" viewBox="0 0 18 18"><use href="#iw"/></svg>
<svg class="ic" style="left:499px;top:609px" viewBox="0 0 18 18"><use href="#iw"/></svg>
<svg class="ic" style="left:652px;top:524px" viewBox="0 0 18 18"><use href="#iw"/></svg>
<svg class="ic" style="left:889px;top:651px" viewBox="0 0 18 18"><use href="#ic"/></svg>
<svg class="ic" style="left:1311px;top:906px" viewBox="0 0 18 18"><use href="#ic"/></svg>
<svg class="ic" style="left:50px;top:727px" viewBox="0 0 18 18"><use href="#iw"/></svg>
<svg class="ic" style="left:177px;top:733px" viewBox="0 0 18 18"><use href="#iw"/></svg>
<svg class="ic" style="left:493px;top:772px" viewBox="0 0 18 18"><use href="#iw"/></svg>
<svg class="ic" style="left:510px;top:772px" viewBox="0 0 18 18"><use href="#ic"/></svg>
<svg class="ic" style="left:750px;top:702px" viewBox="0 0 18 18"><use href="#iw"/></svg>
<svg class="ic" style="left:594px;top:843px" viewBox="0 0 18 18"><use href="#iw"/></svg>
<svg class="ic" style="left:611px;top:843px" viewBox="0 0 18 18"><use href="#ic"/></svg>
<svg class="ic" style="left:736px;top:839px" viewBox="0 0 18 18"><use href="#iw"/></svg>
<svg class="ic" style="left:490px;top:877px" viewBox="0 0 18 18"><use href="#iw"/></svg>
</body></html>
